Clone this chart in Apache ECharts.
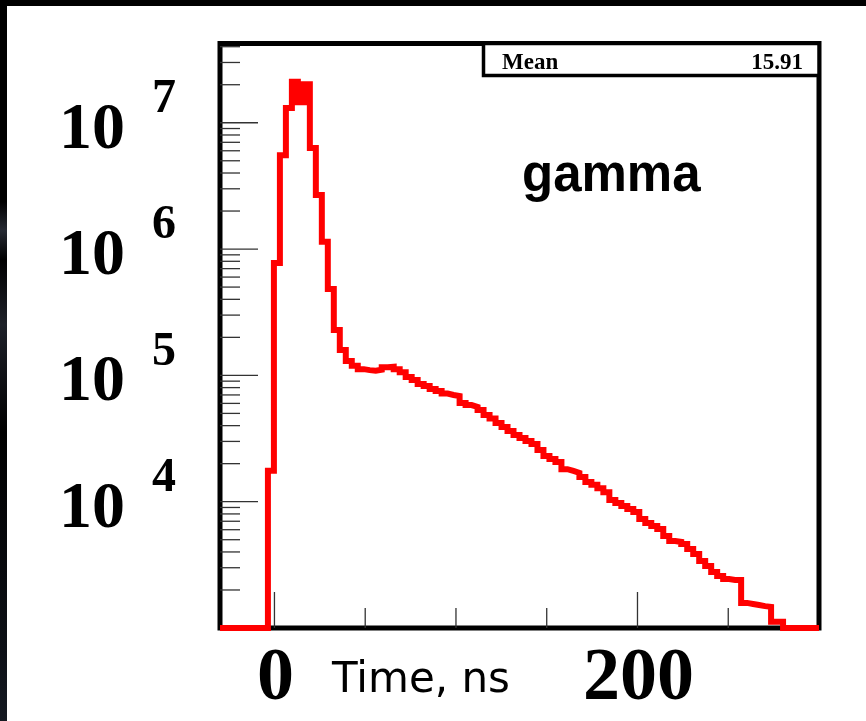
<!DOCTYPE html>
<html>
<head>
<meta charset="utf-8">
<script src="https://cdn.jsdelivr.net/npm/echarts@6.0.0/dist/echarts.min.js"></script>
<style>
html, body { margin: 0; padding: 0; background: #fff; }
#chart { width: 866px; height: 721px; }
</style>
</head>
<body>
<div id="chart"></div>
<script>
// histogram binning: 100 bins of 3.3 ns from -30 to 300 ns
var binLow = -30;
var binWidth = 3.3;
var counts = [
  0, 0, 0, 0, 0, 0, 0, 0, 1.76e4, 7.75e5,
  5.52e6, 1.31e7, 2.11e7, 1.45e7, 2.02e7, 6.3e6, 2.68e6, 1.14e6, 4.83e5, 2.29e5,
  1.59e5, 1.30e5, 1.19e5, 1.12e5, 1.10e5, 1.09e5, 1.11e5, 1.16e5, 1.17e5, 1.12e5,
  1.06e5, 9.7e4, 9.2e4, 8.55e4, 8.24e4, 7.8e4, 7.52e4, 7.19e4, 7.0e4, 6.87e4,
  6.04e4, 5.82e4, 5.62e4, 5.32e4, 4.86e4, 4.56e4, 4.2e4, 3.9e4, 3.63e4, 3.37e4,
  3.19e4, 3.02e4, 2.86e4, 2.57e4, 2.3e4, 2.18e4, 2.06e4, 1.81e4, 1.75e4, 1.69e4,
  1.57e4, 1.43e4, 1.36e4, 1.28e4, 1.19e4, 1.03e4, 9770, 9250, 8750, 8280,
  7290, 6780, 6420, 6080, 5350, 4880, 4800, 4620, 4220, 3860,
  3390, 3100, 2780, 2580, 2440, 2400, 2400, 1580, 1550, 1520,
  1490, 1470, 1120, 1120, 0, 0, 0, 0, 0, 0
];

var xMin = -30, xMax = 300;
var yMin = 1000, yMax = 4.24e7;

var xMajorTicks = [0, 200];
var xMinorTicks = [50, 100, 150, 250];
var xLabels = ['0', '200'];
var yMajorTicks = [1e4, 1e5, 1e6, 1e7];
var yExponents = ['4', '5', '6', '7'];
var xTitle = 'Time, ns';
var particle = 'gamma';
var statName = 'Mean';
var statValue = '15.91';

// log minor ticks 2..9 x 10^n inside the frame
var yMinorTicks = [];
for (var d = 1e3; d < yMax; d *= 10) {
  for (var m = 2; m <= 9; m++) {
    if (d * m < yMax) yMinorTicks.push(d * m);
  }
}

// step line from bin edges; empty bins sit on the frame like ROOT draws them
var histPoints = [];
for (var i = 0; i < counts.length; i++) {
  histPoints.push([binLow + i * binWidth, Math.max(counts[i], yMin)]);
}
histPoints.push([binLow + counts.length * binWidth, Math.max(counts[counts.length - 1], yMin)]);

var xTickData = [];
xMajorTicks.forEach(function (v) { xTickData.push([v, yMin, 36]); });
xMinorTicks.forEach(function (v) { xTickData.push([v, yMin, 20]); });
var yTickData = [];
yMajorTicks.forEach(function (v) { yTickData.push([xMin, v, 38]); });
yMinorTicks.forEach(function (v) { yTickData.push([xMin, v, 20]); });

function xTick(params, api) {
  var p = api.coord([api.value(0), api.value(1)]);
  return {
    type: 'line',
    shape: { x1: p[0], y1: p[1], x2: p[0], y2: p[1] - api.value(2) },
    style: { stroke: '#333', lineWidth: 1.3 }
  };
}
function yTick(params, api) {
  var p = api.coord([api.value(0), api.value(1)]);
  return {
    type: 'line',
    shape: { x1: p[0], y1: p[1], x2: p[0] + api.value(2), y2: p[1] },
    style: { stroke: '#333', lineWidth: 1.3 }
  };
}

var chart = echarts.init(document.getElementById('chart'));
chart.setOption({
  animation: false,
  backgroundColor: '#fff',
  grid: {
    left: 220, right: 47, top: 43.5, bottom: 93,
    show: true, borderColor: '#000', borderWidth: 5
  },
  xAxis: {
    type: 'value', min: xMin, max: xMax,
    axisLine: { show: false }, axisTick: { show: false },
    axisLabel: { show: false }, splitLine: { show: false }
  },
  yAxis: {
    type: 'log', logBase: 10, min: yMin, max: yMax,
    axisLine: { show: false }, axisTick: { show: false },
    axisLabel: { show: false }, splitLine: { show: false }
  },
  series: [
    { type: 'custom', renderItem: xTick, data: xTickData, silent: true, z: 1 },
    { type: 'custom', renderItem: yTick, data: yTickData, silent: true, z: 1 },
    {
      type: 'line', step: 'end', data: histPoints, showSymbol: false,
      lineStyle: { color: '#ff0000', width: 6, join: 'miter' },
      clip: true, silent: true, z: 3
    }
  ]
});

// labels placed at the axis positions
var g = [];
g.push({ type: 'rect', shape: { x: 0, y: 0, width: 866, height: 6 }, style: { fill: '#000' }, z: 10 });
g.push({
  type: 'rect', shape: { x: 0, y: 0, width: 7, height: 721 }, z: 10,
  style: {
    fill: new echarts.graphic.LinearGradient(0, 0, 0, 1, [
      { offset: 0, color: '#000' }, { offset: 0.28, color: '#000' },
      { offset: 0.32, color: '#262a33' }, { offset: 0.36, color: '#000' },
      { offset: 0.45, color: '#1e2129' }, { offset: 0.6, color: '#000' },
      { offset: 0.9, color: '#0d1016' }, { offset: 1, color: '#151a22' }
    ])
  }
});

yMajorTicks.forEach(function (v, i) {
  var py = chart.convertToPixel({ yAxisIndex: 0 }, v);
  g.push({
    type: 'text', x: 59, y: py + 8, z: 10,
    style: { text: '10', font: 'bold 66px "Liberation Serif"', fill: '#000',
      align: 'left', verticalAlign: 'middle', textAlign: 'left', textVerticalAlign: 'middle' }
  });
  g.push({
    type: 'text', x: 152, y: py - 23, z: 10,
    style: { text: yExponents[i], font: 'bold 48px "Liberation Serif"', fill: '#000',
      align: 'left', verticalAlign: 'middle', textAlign: 'left', textVerticalAlign: 'middle' }
  });
});

xMajorTicks.forEach(function (v, i) {
  var px = chart.convertToPixel({ xAxisIndex: 0 }, v);
  g.push({
    type: 'text', x: px + 1, y: 680, z: 10,
    style: { text: xLabels[i], font: 'bold 74px "Liberation Serif"', fill: '#000',
      align: 'center', verticalAlign: 'middle', textAlign: 'center', textVerticalAlign: 'middle' }
  });
});

g.push({
  type: 'text', x: 421, y: 681, z: 10,
  style: { text: xTitle, font: '42px "DejaVu Sans"', fill: '#000',
    align: 'center', verticalAlign: 'middle', textAlign: 'center', textVerticalAlign: 'middle' }
});

g.push({
  type: 'text', x: 522, y: 177, z: 10,
  style: { text: particle, font: 'bold 51px "Liberation Sans"', fill: '#000',
    align: 'left', verticalAlign: 'middle', textAlign: 'left', textVerticalAlign: 'middle' }
});

// stats box
g.push({
  type: 'rect', shape: { x: 483.5, y: 43.5, width: 335.5, height: 32 }, z: 9,
  style: { fill: '#fff', stroke: '#000', lineWidth: 3.5 }
});
g.push({
  type: 'text', x: 502, y: 63, z: 10,
  style: { text: statName, font: 'bold 23px "Liberation Serif"', fill: '#000',
    align: 'left', verticalAlign: 'middle', textAlign: 'left', textVerticalAlign: 'middle' }
});
g.push({
  type: 'text', x: 803, y: 63, z: 10,
  style: { text: statValue, font: 'bold 23px "Liberation Serif"', fill: '#000',
    align: 'right', verticalAlign: 'middle', textAlign: 'right', textVerticalAlign: 'middle' }
});

chart.setOption({ graphic: g });
</script>
</body>
</html>
